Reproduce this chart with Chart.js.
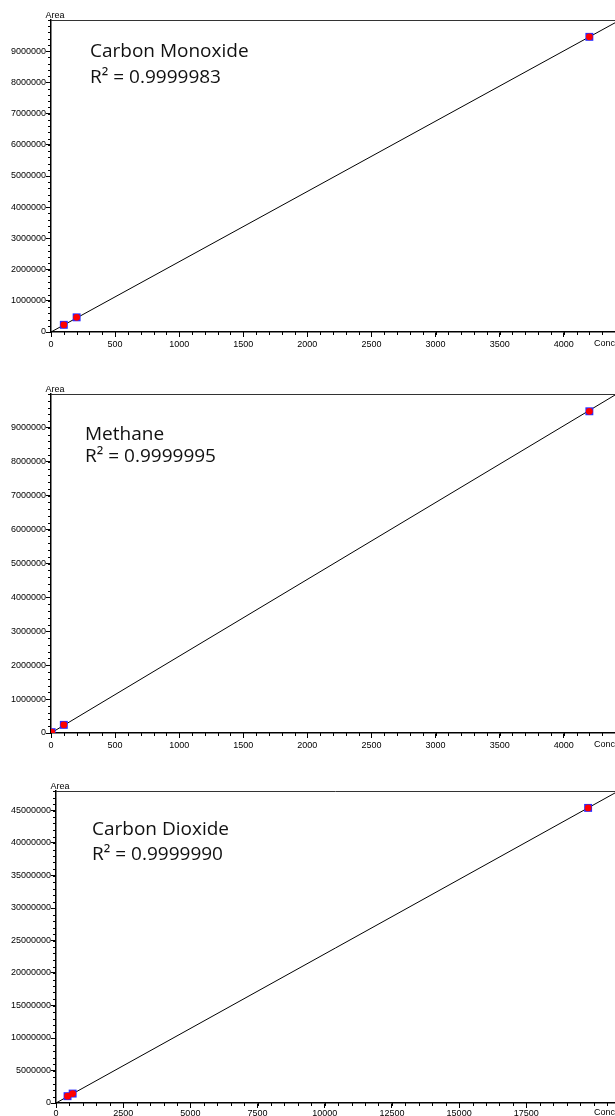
<!DOCTYPE html>
<html><head><meta charset="utf-8">
<script src="https://cdn.jsdelivr.net/npm/chart.js@4"></script>
<style>
html,body{margin:0;padding:0;background:#fff;}
body{width:615px;height:1116px;position:relative;overflow:hidden;}
canvas{position:absolute;left:0;}
</style></head><body>
<canvas id="c1" width="615" height="355" style="top:0px;width:615px;height:355px"></canvas>
<canvas id="c2" width="615" height="380" style="top:374px;width:615px;height:380px"></canvas>
<canvas id="c3" width="615" height="345" style="top:771px;width:615px;height:345px"></canvas>
<script>
// ---- Data ----
const coConc  = [100, 200, 4200];
const coArea  = [230000, 470000, 9460000];
const coFitX  = [0, 4400];
const coFitY  = [0, 9910000];

const ch4Conc = [5, 100, 4200];
const ch4Area = [25000, 240000, 9490000];
const ch4FitX = [0, 4400];
const ch4FitY = [0, 9970000];

const co2Conc = [430, 620, 19800];
const co2Area = [1050000, 1450000, 45400000];
const co2FitX = [0, 20800];
const co2FitY = [0, 47700000];

const xTicksSmall = [0, 500, 1000, 1500, 2000, 2500, 3000, 3500, 4000];
const yTicksSmall = [0, 1000000, 2000000, 3000000, 4000000, 5000000, 6000000, 7000000, 8000000, 9000000];
const xTicksCO2   = [0, 2500, 5000, 7500, 10000, 12500, 15000, 17500];
const yTicksCO2   = [0, 5000000, 10000000, 15000000, 20000000, 25000000, 30000000, 35000000, 40000000, 45000000];

const names  = ['Carbon Monoxide', 'Methane', 'Carbon Dioxide'];
const r2Text = ['R² = 0.9999983', 'R² = 0.9999995', 'R² = 0.9999990'];
const yTitle = 'Area';
const xTitle = 'Conc';

Chart.defaults.font.family = '"Liberation Sans", Arial, sans-serif';
Chart.defaults.font.size = 9;
Chart.defaults.color = '#000';

const deco = {
  id: 'deco',
  afterDraw(chart, args, o) {
    const ctx = chart.ctx, a = chart.chartArea, xs = chart.scales.x, ys = chart.scales.y;
    ctx.save();
    // top frame line
    ctx.strokeStyle = '#333'; ctx.lineWidth = 1;
    ctx.beginPath(); ctx.moveTo(a.left, Math.round(a.top) + 0.5); ctx.lineTo(a.right, Math.round(a.top) + 0.5); ctx.stroke();
    // minor ticks
    ctx.strokeStyle = '#000';
    ctx.beginPath();
    for (let v = xs.min; v <= xs.max; v += o.xMinor) {
      const p = Math.round(xs.getPixelForValue(v)) + 0.5;
      ctx.moveTo(p, a.bottom); ctx.lineTo(p, a.bottom + 3);
    }
    for (let v = ys.min; v <= ys.max; v += o.yMinor) {
      const p = Math.round(ys.getPixelForValue(v)) + 0.5;
      ctx.moveTo(a.left - 3, p); ctx.lineTo(a.left, p);
    }
    ctx.stroke();
    // axis titles
    ctx.fillStyle = '#000';
    ctx.font = '9px "Liberation Sans", Arial, sans-serif';
    ctx.textAlign = 'center'; ctx.textBaseline = 'alphabetic';
    ctx.fillText(yTitle, a.left + 4, a.top - 2);
    ctx.textAlign = 'right'; ctx.textBaseline = 'top';
    ctx.fillText(xTitle, a.right, a.bottom + o.labelGap);
    // annotation
    ctx.font = '19px "Open Sans", "Noto Sans", sans-serif';
    ctx.fillStyle = '#111';
    ctx.textAlign = 'left'; ctx.textBaseline = 'alphabetic';
    ctx.fillText(o.name, a.left + o.tx, a.top + o.ty1);
    ctx.fillText(o.r2, a.left + o.tx, a.top + o.ty2);
    ctx.restore();
  }
};

function makeChart(id, s) {
  const pts = s.conc.map((c, i) => ({x: c, y: s.area[i]}));
  const fit = s.fitX.map((c, i) => ({x: c, y: s.fitY[i]}));
  return new Chart(document.getElementById(id), {
    type: 'scatter',
    data: {
      datasets: [
        {data: pts, pointStyle: 'circle', pointRadius: 3.4, backgroundColor: '#ff0000', borderWidth: 0, order: 0},
        {data: pts, pointStyle: 'rect', pointRadius: 5.6, backgroundColor: '#2a2aff', borderColor: '#2a2aff', borderWidth: 0, order: 1},
        {type: 'line', data: fit, borderColor: '#000', borderWidth: 1, pointRadius: 0, fill: false, order: 2}
      ]
    },
    options: {
      responsive: false,
      animation: false,
      events: [],
      layout: {autoPadding: false, padding: {top: 20, left: 0, right: 0, bottom: 0}},
      plugins: {
        legend: {display: false},
        tooltip: {enabled: false},
        deco: {xMinor: s.xMinor, yMinor: s.yMinor, name: s.name, r2: s.r2, tx: s.tx, ty1: s.ty1, ty2: s.ty2, labelGap: s.labelGap}
      },
      scales: {
        x: {
          type: 'linear', min: 0, max: s.xMax,
          afterBuildTicks: sc => { sc.ticks = s.xTicks.map(v => ({value: v})); },
          afterFit: sc => { sc.height = s.xAxisH; sc.paddingLeft = 0; sc.paddingRight = 0; },
          ticks: {callback: v => String(v), maxRotation: 0, minRotation: 0, autoSkip: false, padding: s.labelGap - 5, color: '#000'},
          grid: {drawOnChartArea: false, drawTicks: true, tickLength: 5, tickColor: '#000', tickWidth: 1},
          border: {display: true, color: '#000', width: 1.5}
        },
        y: {
          type: 'linear', min: 0, max: s.yMax,
          afterBuildTicks: sc => { sc.ticks = s.yTicks.map(v => ({value: v})); },
          afterFit: sc => { sc.width = s.yAxisW; sc.paddingTop = 0; sc.paddingBottom = 0; },
          ticks: {callback: v => String(v), autoSkip: false, padding: 0, color: '#000'},
          grid: {drawOnChartArea: false, drawTicks: true, tickLength: 5, tickColor: '#000', tickWidth: 1},
          border: {display: true, color: '#000', width: 1.5}
        }
      }
    },
    plugins: [deco]
  });
}

makeChart('c1', {conc: coConc, area: coArea, fitX: coFitX, fitY: coFitY,
  xMax: 4400, yMax: 10000000, xTicks: xTicksSmall, yTicks: yTicksSmall, xMinor: 100, yMinor: 200000,
  yAxisW: 51, xAxisH: 23, labelGap: 7, name: names[0], r2: r2Text[0], tx: 39, ty1: 37, ty2: 63});

makeChart('c2', {conc: ch4Conc, area: ch4Area, fitX: ch4FitX, fitY: ch4FitY,
  xMax: 4400, yMax: 10000000, xTicks: xTicksSmall, yTicks: yTicksSmall, xMinor: 100, yMinor: 200000,
  yAxisW: 51, xAxisH: 21, labelGap: 7, name: names[1], r2: r2Text[1], tx: 34, ty1: 46, ty2: 68});

makeChart('c3', {conc: co2Conc, area: co2Area, fitX: co2FitX, fitY: co2FitY,
  xMax: 20800, yMax: 48000000, xTicks: xTicksCO2, yTicks: yTicksCO2, xMinor: 500, yMinor: 1000000,
  yAxisW: 56, xAxisH: 13, labelGap: 5, name: names[2], r2: r2Text[2], tx: 36, ty1: 44, ty2: 69});
</script>
</body></html>
